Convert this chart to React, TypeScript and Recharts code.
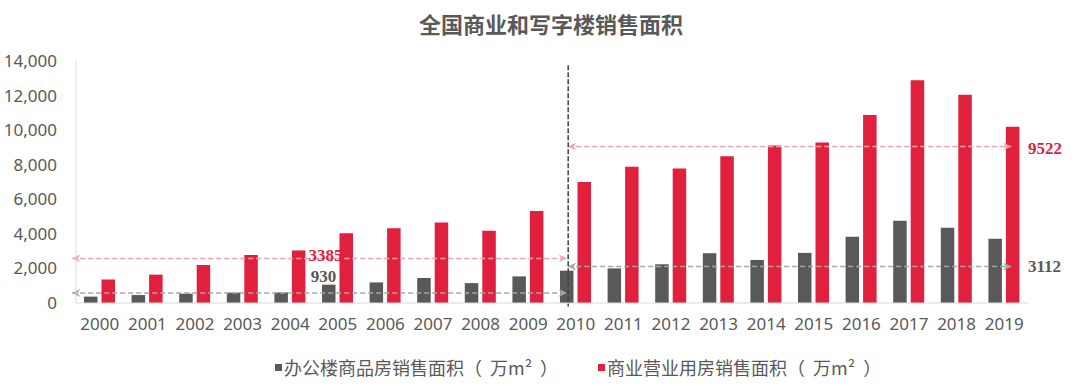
import {
    ComposedChart,
    Bar,
    XAxis,
    YAxis,
    ReferenceLine,
    ReferenceDot,
} from "recharts";

const years = [
    "2000", "2001", "2002", "2003", "2004", "2005", "2006", "2007", "2008", "2009",
    "2010", "2011", "2012", "2013", "2014", "2015", "2016", "2017", "2018", "2019",
];
const officeArea = [
    370, 460, 540, 600, 610, 1060, 1190, 1450, 1150, 1540,
    1870, 2000, 2240, 2880, 2490, 2900, 3830, 4760, 4360, 3720,
];
const commercialArea = [
    1360, 1640, 2200, 2780, 3040, 4030, 4320, 4650, 4180, 5320,
    7000, 7880, 7780, 8490, 9110, 9290, 10880, 12890, 12050, 10200,
];
const yTicks = [0, 2000, 4000, 6000, 8000, 10000, 12000, 14000];

const officeName = "办公楼商品房销售面积";
const commercialName = "商业营业用房销售面积";
const unit = "万m²";

// guide lines: [start, end] on a 0..20 slot axis, level on the value axis
const leftSpan = [-0.08, 10.31];
const rightSpan = [10.34, 19.65];
const leftCommercialLevel = 2580;
const leftOfficeLevel = 580;
const rightCommercialLevel = 9050;
const rightOfficeLevel = 2110;
const dividerX = 10.34;
const dividerRange = [13750, -200];

const notes = [
    { text: "3385", x: 5.24, y: 2790, color: "#e0203c", pos: "center" },
    { text: "930", x: 5.2, y: 1578, color: "#595959", pos: "center" },
    { text: "9522", x: 20.0, y: 8970, color: "#e0203c", pos: "right" },
    { text: "3112", x: 20.0, y: 2115, color: "#595959", pos: "right" },
];

const GRAY = "#595959";
const RED = "#e0203c";
const PINK_LINE = "#f4a3ae";
const GRAY_LINE = "#a6a6a6";

const data = years.map((year, i) => ({
    year,
    slot: i,
    office: officeArea[i],
    commercial: commercialArea[i],
}));

const arrowShape = (marker: string) => (props: any) => (
    <line
        x1={props.x1}
        y1={props.y1}
        x2={props.x2}
        y2={props.y2}
        stroke={props.stroke}
        strokeWidth={1.5}
        strokeDasharray="5 3"
        markerStart={`url(#${marker})`}
        markerEnd={`url(#${marker})`}
    />
);

const tickStyle = { fontSize: 17, fill: GRAY, fontFamily: '"Noto Sans", sans-serif' };

export default function App() {
    return (
        <div style={{ position: "absolute", left: 0, top: 0, width: 1080, height: 386, background: "#fff" }}>
            <div
                style={{
                    position: "absolute",
                    left: 551,
                    top: 8,
                    transform: "translateX(-50%)",
                    whiteSpace: "nowrap",
                    fontFamily: '"Noto Sans CJK SC", sans-serif',
                    fontWeight: 700,
                    fontSize: 22,
                    lineHeight: "30px",
                    color: GRAY,
                }}
            >
                全国商业和写字楼销售面积
            </div>

            <ComposedChart
                width={1080}
                height={386}
                data={data}
                margin={{ top: 61, right: 52, bottom: 53, left: 0 }}
                barGap={4}
            >
                <defs>
                    <marker id="arrowPink" viewBox="0 0 8 8" refX={8} refY={4} markerWidth={8} markerHeight={8}
                        markerUnits="userSpaceOnUse" orient="auto-start-reverse">
                        <path d="M0,0 L8,4 L0,8 L2.5,4 Z" fill={PINK_LINE} />
                    </marker>
                    <marker id="arrowGray" viewBox="0 0 8 8" refX={8} refY={4} markerWidth={8} markerHeight={8}
                        markerUnits="userSpaceOnUse" orient="auto-start-reverse">
                        <path d="M0,0 L8,4 L0,8 L2.5,4 Z" fill={GRAY_LINE} />
                    </marker>
                </defs>
                <XAxis
                    dataKey="year"
                    height={30}
                    tickLine={false}
                    tickSize={0}
                    tickMargin={15}
                    interval={0}
                    stroke="#d9d9d9"
                    tick={tickStyle}
                />
                <XAxis
                    xAxisId="slot"
                    dataKey="slot"
                    type="number"
                    domain={[0, 20]}
                    allowDataOverflow
                    hide
                />
                <YAxis
                    width={76}
                    domain={[0, 14000]}
                    ticks={yTicks}
                    tickLine={false}
                    tickSize={0}
                    tickMargin={19}
                    stroke="#d9d9d9"
                    tick={tickStyle}
                    tickFormatter={(v: number) => v.toLocaleString("en-US")}
                />
                <Bar dataKey="office" name={officeName} fill={GRAY} barSize={13.5} isAnimationActive={false} />
                <Bar dataKey="commercial" name={commercialName} fill={RED} barSize={13.5} isAnimationActive={false} />

                <ReferenceLine
                    xAxisId="slot"
                    ifOverflow="visible"
                    stroke={PINK_LINE}
                    segment={[{ x: leftSpan[0], y: leftCommercialLevel }, { x: leftSpan[1], y: leftCommercialLevel }]}
                    shape={arrowShape("arrowPink")}
                />
                <ReferenceLine
                    xAxisId="slot"
                    ifOverflow="visible"
                    stroke={GRAY_LINE}
                    segment={[{ x: leftSpan[0], y: leftOfficeLevel }, { x: leftSpan[1], y: leftOfficeLevel }]}
                    shape={arrowShape("arrowGray")}
                />
                <ReferenceLine
                    xAxisId="slot"
                    ifOverflow="visible"
                    stroke={PINK_LINE}
                    segment={[{ x: rightSpan[0], y: rightCommercialLevel }, { x: rightSpan[1], y: rightCommercialLevel }]}
                    shape={arrowShape("arrowPink")}
                />
                <ReferenceLine
                    xAxisId="slot"
                    ifOverflow="visible"
                    stroke={GRAY_LINE}
                    segment={[{ x: rightSpan[0], y: rightOfficeLevel }, { x: rightSpan[1], y: rightOfficeLevel }]}
                    shape={arrowShape("arrowGray")}
                />
                <ReferenceLine
                    xAxisId="slot"
                    ifOverflow="visible"
                    stroke="#404040"
                    strokeWidth={1.5}
                    strokeDasharray="5 2"
                    segment={[{ x: dividerX, y: dividerRange[0] }, { x: dividerX, y: dividerRange[1] }]}
                />

                {notes.map((n) => (
                    <ReferenceDot
                        key={n.text}
                        xAxisId="slot"
                        x={n.x}
                        y={n.y}
                        r={0}
                        ifOverflow="visible"
                        fill="none"
                        stroke="none"
                        label={{
                            value: n.text,
                            position: n.pos as any,
                            offset: 0,
                            fill: n.color,
                            fontSize: 17,
                            fontWeight: 700,
                            fontFamily: '"Liberation Serif", serif',
                        }}
                    />
                ))}
            </ComposedChart>

            <div
                style={{
                    position: "absolute",
                    left: 275,
                    top: 354,
                    display: "flex",
                    alignItems: "center",
                    gap: 40,
                    fontFamily: '"Noto Sans CJK SC", sans-serif',
                    fontSize: 18,
                    lineHeight: "26px",
                    color: GRAY,
                    whiteSpace: "nowrap",
                }}
            >
                {[
                    { name: officeName, color: GRAY },
                    { name: commercialName, color: RED },
                ].map((item) => (
                    <div key={item.name} style={{ display: "flex", alignItems: "center" }}>
                        <span style={{ width: 7, height: 7, background: item.color, marginRight: 2 }} />
                        <span>{item.name}</span>
                        <span>（</span>
                        <span style={{ margin: "0 10px 0 8px" }}>{unit}</span>
                        <span style={{ marginLeft: -2 }}>）</span>
                    </div>
                ))}
            </div>
        </div>
    );
}
